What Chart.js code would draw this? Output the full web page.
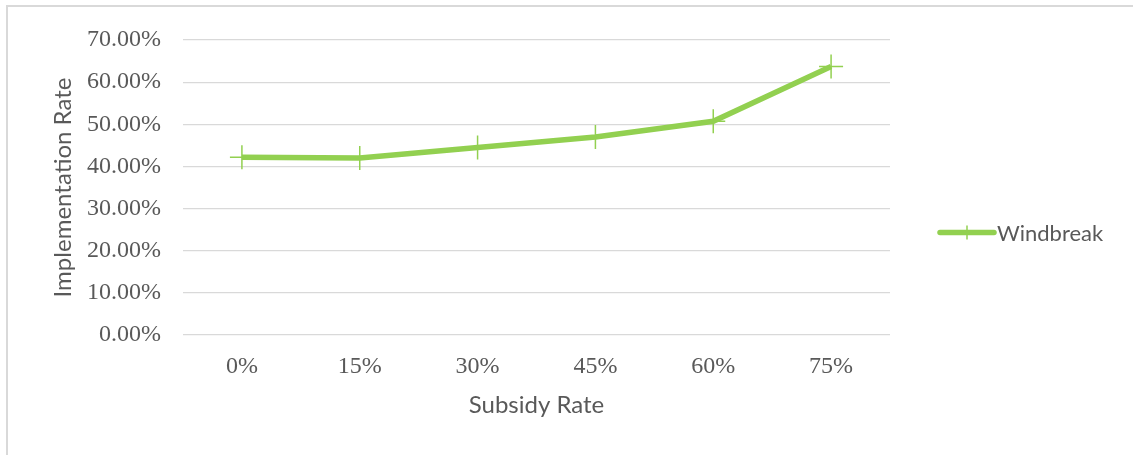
<!DOCTYPE html>
<html>
<head>
<meta charset="utf-8">
<script src="https://cdn.jsdelivr.net/npm/chart.js@4.4.1/dist/chart.umd.min.js"></script>
<style>
  html, body { margin: 0; padding: 0; background: #fff; overflow: hidden; }
  #wrap { position: relative; width: 1133px; height: 455px; }
  #frame { position: absolute; left: 6px; top: 5px; width: 1200px; height: 500px;
           border-left: 2px solid #d9d9d9; border-top: 2px solid #d9d9d9; box-sizing: border-box; }
  canvas { position: absolute; left: 0; top: 0; }
</style>
</head>
<body>
<div id="wrap">
  <div id="frame"></div>
  <canvas id="c" width="1133" height="455"></canvas>
</div>
<script>
const categories = ['0%', '15%', '30%', '45%', '60%', '75%'];
const windbreak = [0.422, 0.420, 0.445, 0.470, 0.507, 0.637];
const seriesName = 'Windbreak';
const xTitle = 'Subsidy Rate';
const yTitle = 'Implementation Rate';

const green = '#92D050';
const textGray = '#595959';

const legendPlugin = {
  id: 'customLegend',
  afterDraw(chart) {
    const ctx = chart.ctx;
    const a = chart.chartArea;
    const y = (a.top + a.bottom) / 2 + 45;
    const x0 = a.right + 50, x1 = x0 + 54;
    ctx.save();
    ctx.strokeStyle = green;
    ctx.lineCap = 'round';
    ctx.lineWidth = 5.5;
    ctx.beginPath(); ctx.moveTo(x0, y); ctx.lineTo(x1, y); ctx.stroke();
    ctx.lineWidth = 1.5;
    ctx.lineCap = 'butt';
    const xm = (x0 + x1) / 2;
    ctx.beginPath(); ctx.moveTo(xm, y - 7); ctx.lineTo(xm, y + 7); ctx.stroke();
    ctx.fillStyle = textGray;
    ctx.font = '22px Lato';
    ctx.textBaseline = 'middle';
    ctx.textAlign = 'left';
    ctx.fillText(seriesName, x1 + 3, y + 1);
    ctx.restore();
  }
};

new Chart(document.getElementById('c'), {
  type: 'line',
  data: {
    labels: categories,
    datasets: [{
      label: seriesName,
      data: windbreak,
      borderColor: green,
      backgroundColor: green,
      borderWidth: 5.5,
      tension: 0,
      fill: false,
      pointStyle: 'cross',
      pointRadius: 12,
      pointHoverRadius: 12,
      pointBorderWidth: 1.5,
      pointBorderColor: green
    }]
  },
  options: {
    responsive: false,
    animation: false,
    devicePixelRatio: 1,
    layout: { padding: { left: 0, right: 243, top: 40, bottom: 0 } },
    plugins: { legend: { display: false }, tooltip: { enabled: false } },
    scales: {
      x: {
        offset: true,
        grid: { display: false, drawTicks: false },
        border: { display: false },
        ticks: { color: textGray, font: { family: 'Liberation Serif', size: 24 }, padding: 17, maxRotation: 0 },
        title: { display: true, text: xTitle, color: textGray,
                 font: { family: 'Lato', size: 24, lineHeight: 1 }, padding: { top: 0, bottom: 38 } },
        afterFit(s) { s.height = 120; }
      },
      y: {
        min: 0, max: 0.7,
        grid: { color: '#d9d9d9', lineWidth: 1.2, drawTicks: false },
        border: { display: false },
        ticks: { stepSize: 0.1, color: textGray, font: { family: 'Liberation Serif', size: 24 }, padding: 22,
                 callback: v => (v * 100).toFixed(2) + '%' },
        title: { display: true, text: yTitle, color: textGray,
                 font: { family: 'Lato', size: 24, lineHeight: 1 }, padding: { top: 51, bottom: 0 } },
        afterFit(s) { s.width = 183; }
      }
    }
  },
  plugins: [legendPlugin]
});
</script>
</body>
</html>
